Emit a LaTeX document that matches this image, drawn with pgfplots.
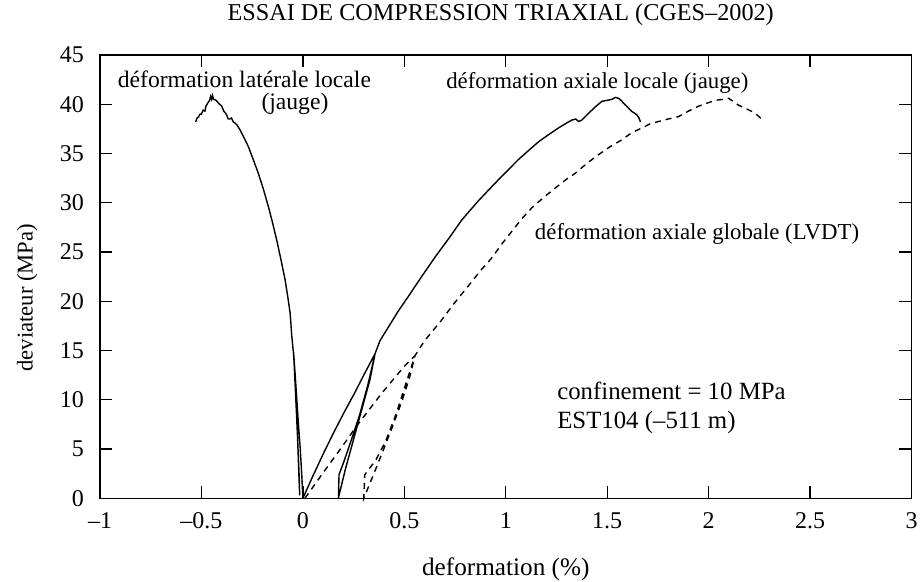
\documentclass[border=0pt]{standalone}
\usepackage{fontspec}
\setmainfont{Liberation Serif}
\usepackage{pgfplots}
\pgfplotsset{compat=1.18}
\begin{document}
\begin{tikzpicture}[font=\fontsize{12}{14}\selectfont]
\begin{axis}[
  scale only axis,
  width=405.5pt, height=221.5pt,
  xmin=-1, xmax=3, ymin=0, ymax=45,
  xtick={-1,-0.5,0,0.5,1,1.5,2,2.5,3},
  xticklabels={–1,–0.5,0,0.5,1,1.5,2,2.5,3},
  ytick={0,5,10,15,20,25,30,35,40,45},
  /pgf/number format/assume math mode=true,
  tick align=inside,
  major tick length=6pt,
  axis line style={line width=0.7pt},
  every tick/.style={line width=0.7pt, black},
  xticklabel style={yshift=-3.5pt},
  yticklabel style={xshift=-4.6pt},
  clip=false,
  title={ESSAI DE COMPRESSION TRIAXIAL (CGES–2002)},
  title style={at={(axis description cs:0.4938,1.0497)}, anchor=base, inner sep=0pt, font=\fontsize{12.1}{14}\selectfont},
  xlabel={deformation (\%)},
  xlabel style={at={(axis description cs:0.5,-0.1738)}, anchor=base, inner sep=0pt, font=\fontsize{12.6}{14}\selectfont},
  ylabel={deviateur (MPa)},
  ylabel style={at={(axis description cs:-0.0832,0.4526)}, anchor=base, rotate=0, inner sep=0pt, font=\fontsize{11.3}{14}\selectfont},
]
% deformation laterale locale (jauge)
\addplot[black, line width=0.7pt] coordinates {
(0.000,0.0) (-0.006,2.5) (-0.013,5.0) (-0.022,7.5) (-0.030,10.0) (-0.038,12.5) (-0.046,14.8)
(-0.036,10.5) (-0.026,6.0) (-0.018,2.0) (-0.016,0.3)
(-0.020,2.5) (-0.027,6.5) (-0.035,10.5) (-0.042,13.5) (-0.047,14.8)
(-0.055,16.5) (-0.063,18.8) (-0.075,20.5) (-0.088,22.2) (-0.108,24.2) (-0.129,26.2)
(-0.150,28.0) (-0.170,29.6) (-0.195,31.4) (-0.220,33.0) (-0.245,34.4) (-0.269,35.7)
(-0.290,36.6) (-0.310,37.4) (-0.325,37.9) (-0.335,38.1) (-0.343,38.2) (-0.352,38.6) (-0.360,38.5)
(-0.368,38.5) (-0.378,39.0) (-0.390,39.3) (-0.400,39.8) (-0.415,40.1) (-0.428,40.4)
(-0.440,40.5) (-0.446,40.9) (-0.450,40.5) (-0.455,40.8) (-0.460,40.4) (-0.470,40.1)
(-0.478,39.8) (-0.483,39.3) (-0.492,39.4) (-0.500,39.0) (-0.507,39.0) (-0.515,38.7)
(-0.522,38.6) (-0.529,38.2)
};
% deformation axiale locale (jauge)
\addplot[black, line width=0.7pt] coordinates {
(0.000,0.0) (0.05,2.3) (0.10,4.5) (0.15,6.6) (0.20,8.6) (0.25,10.5) (0.30,12.5) (0.356,14.7)
(0.32,11.5) (0.28,8.5) (0.24,6.0) (0.20,3.6) (0.178,2.4) (0.175,0.0)
(0.178,0.3) (0.21,3.0) (0.25,6.0) (0.29,9.0) (0.33,12.0) (0.356,14.7)
(0.38,16.0) (0.422,17.4) (0.47,19.0) (0.520,20.5) (0.585,22.5) (0.652,24.5) (0.72,26.4)
(0.783,28.25) (0.865,30.2) (0.948,32.0) (1.005,33.2) (1.063,34.4) (1.112,35.3)
(1.162,36.2) (1.21,36.9) (1.26,37.6) (1.30,38.1) (1.326,38.4) (1.345,38.5) (1.359,38.25)
(1.375,38.4) (1.395,38.8) (1.417,39.26) (1.445,39.8) (1.474,40.3) (1.50,40.4)
(1.523,40.5) (1.540,40.7) (1.556,40.6) (1.568,40.4) (1.581,40.1) (1.600,39.7)
(1.622,39.26) (1.635,39.1) (1.647,38.9) (1.657,38.6) (1.664,38.2)
};
% deformation axiale globale (LVDT)
\addplot[black, line width=0.7pt, dash pattern=on 3pt off 2.5pt] coordinates {
(0.01,0.0) (0.10,2.6) (0.192,5.2) (0.26,7.2) (0.323,8.9) (0.39,10.7) (0.455,12.3) (0.50,13.4) (0.553,14.5)
(0.51,11.8) (0.46,8.6) (0.41,5.9) (0.36,3.9) (0.305,2.4) (0.300,0.0)
(0.34,2.0) (0.389,4.5) (0.44,7.2) (0.487,9.8) (0.525,12.2) (0.553,14.5)
(0.60,16.0) (0.68,18.0) (0.75,19.9) (0.817,21.6) (0.875,23.1) (0.931,24.4) (0.98,25.8)
(1.03,27.1) (1.08,28.4) (1.129,29.5) (1.19,30.6) (1.244,31.5) (1.30,32.4) (1.343,33.0)
(1.40,34.0) (1.458,34.9) (1.515,35.7) (1.573,36.4) (1.606,36.9) (1.640,37.3) (1.672,37.6)
(1.71,38.0) (1.753,38.25) (1.80,38.5) (1.852,38.75) (1.90,39.3) (1.95,39.8) (1.99,40.1)
(2.034,40.4) (2.07,40.5) (2.099,40.6) (2.12,40.3) (2.148,39.9) (2.18,39.6) (2.214,39.26)
(2.24,38.9) (2.255,38.6) (2.272,38.25)
};
\node[anchor=base west, inner sep=0pt, font=\fontsize{11.8}{14}\selectfont] at (axis cs:-0.914,41.70) {déformation latérale locale};
\node[anchor=base west, inner sep=0pt, font=\fontsize{11.8}{14}\selectfont] at (axis cs:-0.206,39.43) {(jauge)};
\node[anchor=base east, inner sep=0pt, font=\fontsize{11.4}{14}\selectfont] at (axis cs:2.198,41.64) {déformation axiale locale (jauge)};
\node[anchor=base west, inner sep=0pt, font=\fontsize{11.4}{14}\selectfont] at (axis cs:1.142,26.29) {déformation axiale globale (LVDT)};
\node[anchor=base west, inner sep=0pt, font=\fontsize{12.4}{14}\selectfont] at (axis cs:1.252,10.03) {confinement = 10 MPa};
\node[anchor=base west, inner sep=0pt, font=\fontsize{12.4}{14}\selectfont] at (axis cs:1.252,7.08) {EST104 (–511 m)};
\end{axis}
\pgfresetboundingbox
\path (current axis.south west)+(-50pt,-41.5pt) coordinate (bbA);
\path (current axis.north east)+(4.25pt,27.5pt) coordinate (bbB);
\path[use as bounding box] (bbA) rectangle (bbB);
\end{tikzpicture}
\end{document}
